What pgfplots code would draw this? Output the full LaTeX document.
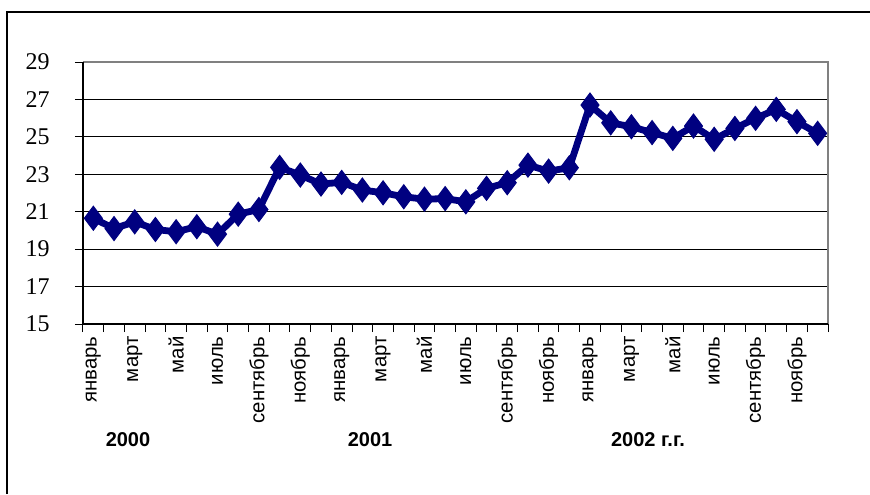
\documentclass[border=0pt]{standalone}
\usepackage{fontspec}
\setmainfont{Liberation Serif}
\newfontfamily\arial{Liberation Sans}
\usepackage{pgfplots}
\pgfplotsset{compat=1.18}
\definecolor{navy}{RGB}{0,0,128}
\begin{document}
\begin{tikzpicture}
\path[use as bounding box] (-41.5pt,-85pt) rectangle (393.5pt,162pt);
\draw[line width=0.8pt] (-38pt,-85pt) -- (-38pt,156pt) -- (393.5pt,156pt);
\begin{axis}[
  at={(0,0)}, anchor=south west,
  scale only axis, width=372.5pt, height=131pt,
  xmin=-0.5, xmax=35.5, ymin=15, ymax=29,
  ytick={15,17,...,29},
  xtick={-0.5,0.5,...,35.5}, xticklabels={},
  extra x ticks={0,2,...,34},
  extra x tick labels={январь,март,май,июль,сентябрь,ноябрь,январь,март,май,июль,сентябрь,ноябрь,январь,март,май,июль,сентябрь,ноябрь},
  extra x tick style={major tick length=0pt, grid=none},
  xticklabel style={rotate=90, anchor=east, inner sep=0pt, xshift=-6pt, font=\arial\fontsize{10.2}{10}\selectfont},
  yticklabel style={anchor=east, inner sep=0pt, xshift=-12.5pt, font=\fontsize{12}{12}\selectfont},
  /pgf/number format/assume math mode=true,
  tick align=outside, major tick length=4pt,
  tick style={black, line width=0.5pt},
  xtick pos=bottom, ytick pos=left,
  ymajorgrids, grid style={black, line width=0.5pt},
  axis line style={draw=none},
  clip=false,
]
\addplot[navy, line width=3.4pt, mark=diamond*, mark size=6pt, mark options={solid, line width=0.5pt, fill=navy}] coordinates {
(0,20.65) (1,20.1) (2,20.46) (3,20.05) (4,19.93) (5,20.2) (6,19.8) (7,20.87) (8,21.12) (9,23.37) (10,22.96) (11,22.48)
(12,22.57) (13,22.16) (14,22.01) (15,21.8) (16,21.67) (17,21.7) (18,21.53) (19,22.25) (20,22.55) (21,23.49) (22,23.17) (23,23.35)
(24,26.7) (25,25.75) (26,25.54) (27,25.23) (28,24.92) (29,25.58) (30,24.87) (31,25.45) (32,25.99) (33,26.47) (34,25.81) (35,25.19)
};
\draw[gray, line width=0.8pt] (rel axis cs:0,1) -- (rel axis cs:1,1) -- (rel axis cs:1,0);
\draw[black, line width=0.8pt] (rel axis cs:0,1) -- (rel axis cs:0,0) -- (rel axis cs:1,0);
\end{axis}
\node[font=\arial\bfseries\fontsize{10}{10}\selectfont] at (22.5pt,-58pt) {2000};
\node[font=\arial\bfseries\fontsize{10}{10}\selectfont] at (143.5pt,-58pt) {2001};
\node[font=\arial\bfseries\fontsize{10}{10}\selectfont] at (282.5pt,-58pt) {2002 г.г.};
\end{tikzpicture}
\end{document}
